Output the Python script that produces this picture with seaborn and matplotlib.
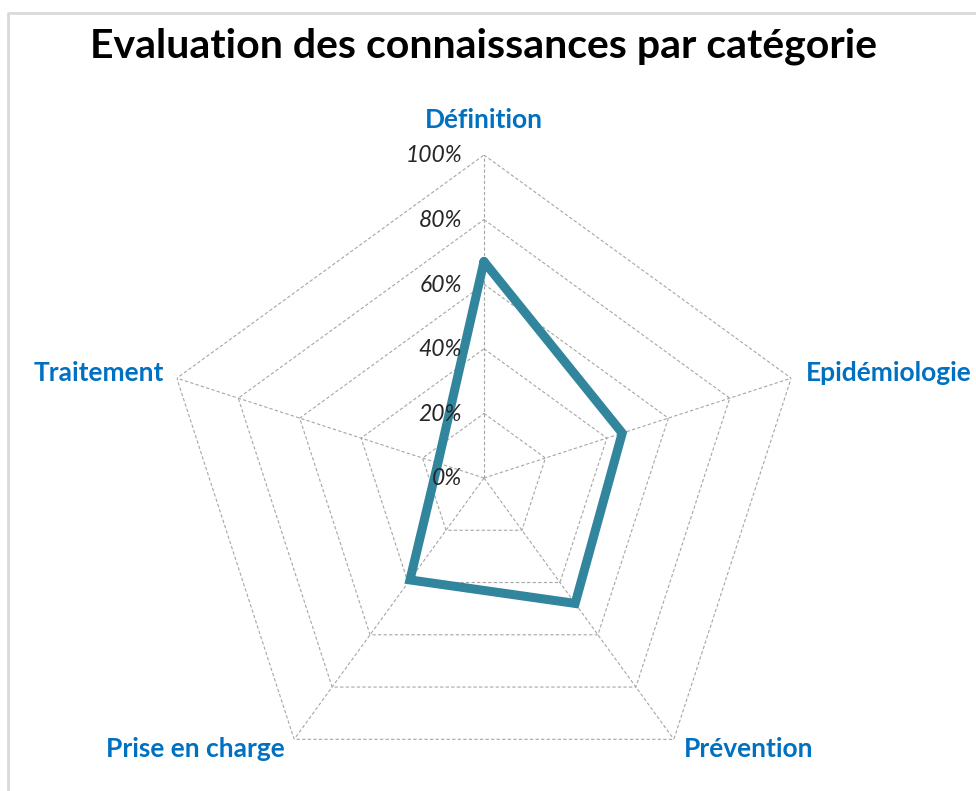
import numpy as np
import pandas as pd
import matplotlib
matplotlib.use("Agg")
import matplotlib.pyplot as plt
from matplotlib.lines import Line2D
import seaborn as sns

categories = ["Définition", "Epidémiologie", "Prévention", "Prise en charge", "Traitement"]
scores = [0.67, 0.45, 0.48, 0.39, 0.15]
grid_levels = [0.0, 0.2, 0.4, 0.6, 0.8, 1.0]
tick_labels = ["0%", "20%", "40%", "60%", "80%", "100%"]
title = "Evaluation des connaissances par catégorie"

sns.set_theme(style="white")
plt.rcParams["font.family"] = ["Lato", "DejaVu Sans"]

W, H = 976, 791
fig = plt.figure(figsize=(W / 100, H / 100), dpi=100)
fig.patch.set_facecolor("white")

# centre (484,478) px, radius 323 px
cx, cy, R = 484, 478, 323
ax = fig.add_axes([(cx - R) / W, (H - cy - R) / H, 2 * R / W, 2 * R / H], projection="polar")
ax.set_theta_offset(np.pi / 2)
ax.set_theta_direction(-1)
ax.patch.set_alpha(0)

n = len(categories)
theta = np.arange(n) * 2 * np.pi / n
theta_closed = np.append(theta, 2 * np.pi)

# pentagon grid
for lv in grid_levels[1:]:
    ax.plot(theta_closed, [lv] * (n + 1), color="#a6a6a6", lw=0.8, ls=(0, (3, 2)), zorder=1)
for t in theta:
    ax.plot([t, t], [0, 1], color="#a6a6a6", lw=0.8, ls=(0, (3, 2)), zorder=1)

df = pd.DataFrame({"theta": theta_closed, "score": scores + [scores[0]]})
sns.lineplot(data=df, x="theta", y="score", sort=False, estimator=None, ax=ax,
             color="#31859c", lw=6.5, zorder=3, solid_joinstyle="miter")
ax.set_xlabel("")
ax.set_ylabel("")
ax.grid(False)
ax.set_xticks([])
ax.set_yticks([])
ax.set_ylim(0, 1)
ax.spines["polar"].set_visible(False)

# scale labels
for lv, lab in zip(grid_levels, tick_labels):
    ax.annotate(lab, xy=(0, lv), xytext=(-22, -1), textcoords="offset pixels",
                ha="right", va="center", fontsize=16.5, style="italic", color="#262626",
                zorder=4)

# category labels
offsets = [((0, 35), "center"), ((15, 5), "left"), ((10, -10), "left"),
           ((-9, -10), "right"), ((-13, 5), "right")]
for t, lab, (off, ha) in zip(theta, categories, offsets):
    ax.annotate(lab, xy=(t, 1), xytext=off, textcoords="offset pixels",
                ha=ha, va="center", fontsize=19, fontweight="bold", color="#0070c0",
                annotation_clip=False)

fig.text(cx / W, 1 - 46 / H, title, ha="center", va="center", fontsize=29.5,
         fontweight="bold", color="black")

# chart frame
fig.add_artist(Line2D([8 / W, 8 / W, 1.01], [-0.01, 1 - 13 / H, 1 - 13 / H],
                      transform=fig.transFigure, color="#d9d9d9", lw=2))

fig.savefig("out.png", dpi=100, facecolor="white")
